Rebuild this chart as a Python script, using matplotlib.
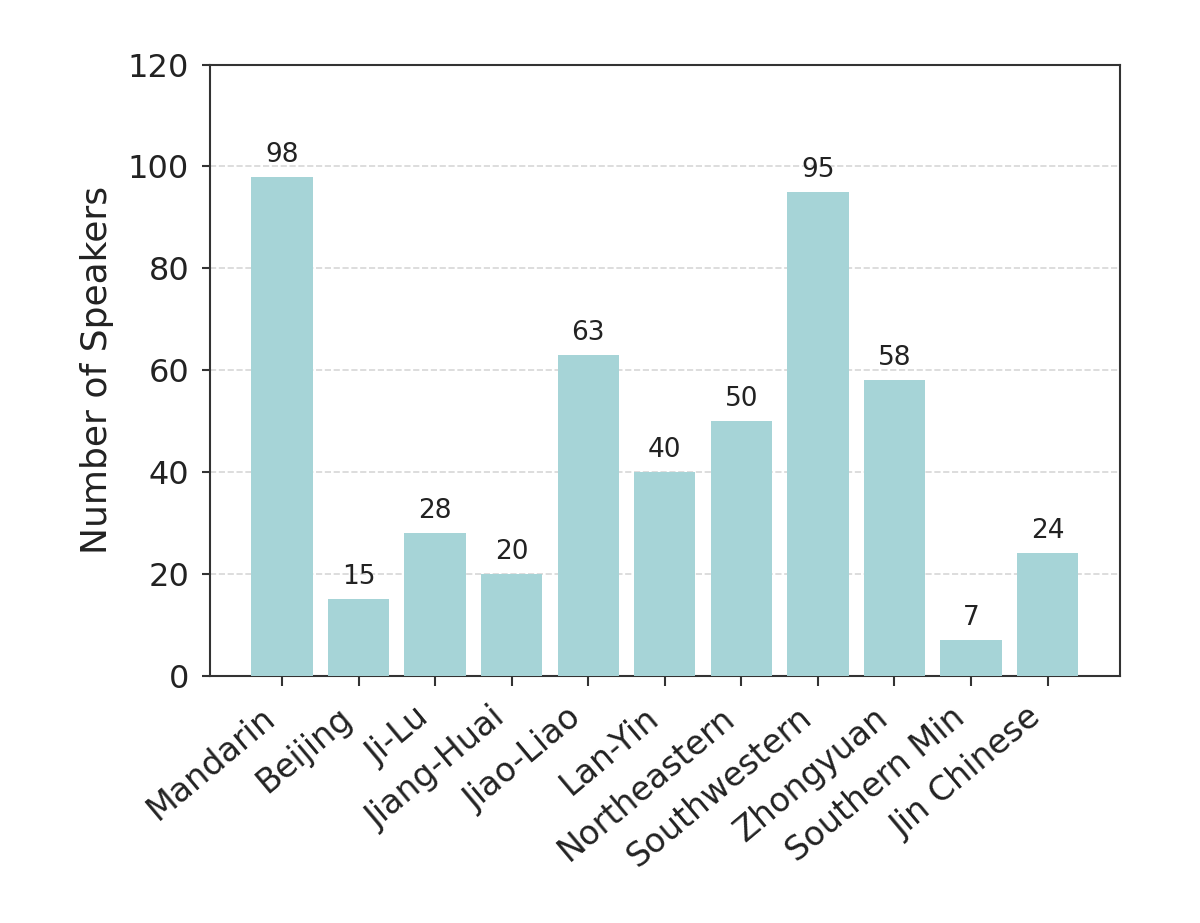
import matplotlib
matplotlib.use("Agg")
import matplotlib.pyplot as plt

# dialect groups and speaker counts
dialects = ["Mandarin", "Beijing", "Ji-Lu", "Jiang-Huai", "Jiao-Liao", "Lan-Yin",
            "Northeastern", "Southwestern", "Zhongyuan", "Southern Min", "Jin Chinese"]
speakers = [98, 15, 28, 20, 63, 40, 50, 95, 58, 7, 24]

fig = plt.figure(figsize=(12, 9.23), dpi=100)
ax = fig.add_axes([0.175, 0.268, 0.758, 0.662])

bars = ax.bar(dialects, speakers, width=0.8, color="#a6d4d7", zorder=3)
for b, v in zip(bars, speakers):
    ax.annotate(str(v), (b.get_x() + b.get_width() / 2, v), xytext=(0, 6.5),
                textcoords="offset points", ha="center", va="bottom",
                fontsize=19, color="#222222")

ax.set_ylim(0, 120)
ax.set_yticks(range(0, 121, 20))
ax.set_ylabel("Number of Speakers", fontsize=26, color="#222222", labelpad=10)
ax.yaxis.grid(True, linestyle="--", color="#cccccc", linewidth=1.2, alpha=0.8, zorder=0)
ax.tick_params(axis="y", labelsize=23, length=6, width=1.5, pad=9,
               colors="#333333", labelcolor="#222222")
ax.tick_params(axis="x", labelsize=24, length=7, width=1.5, pad=11,
               colors="#333333", labelcolor="#222222")
plt.setp(ax.get_xticklabels(), rotation=40, ha="right")
for s in ax.spines.values():
    s.set_linewidth(1.5)
    s.set_color("#333333")

fig.savefig("out.png", dpi=100)
